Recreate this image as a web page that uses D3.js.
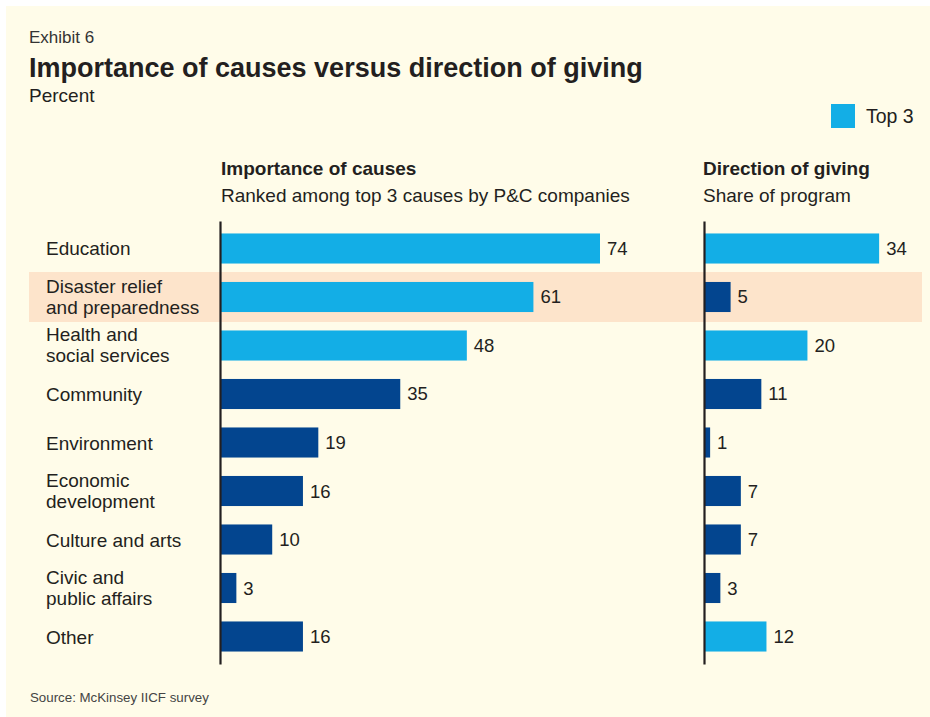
<!DOCTYPE html>
<html>
<head>
<meta charset="utf-8">
<script src="https://cdn.jsdelivr.net/npm/d3@7"></script>
<style>
  html, body { margin: 0; padding: 0; background: #ffffff; }
  svg { display: block; }
  text { font-family: "Liberation Sans", Arial, Helvetica, sans-serif; fill: #231f20; }
</style>
</head>
<body>
<svg id="chart" width="930" height="717"></svg>
<script>
// Causes, listed top to bottom; multi-line labels are split into lines
const categories = [
  ["Education"],
  ["Disaster relief", "and preparedness"],
  ["Health and", "social services"],
  ["Community"],
  ["Environment"],
  ["Economic", "development"],
  ["Culture and arts"],
  ["Civic and", "public affairs"],
  ["Other"]
];

// Importance of causes: % ranking the cause among top 3
const importance = [74, 61, 48, 35, 19, 16, 10, 3, 16];
const importanceTop3 = [true, true, true, false, false, false, false, false, false];

// Direction of giving: share of program, %
const direction = [34, 5, 20, 11, 1, 7, 7, 3, 12];
const directionTop3 = [true, false, true, false, false, false, false, false, true];

// Row that gets the highlight band
const highlightRow = 1;

const colors = { top3: "#13aee6", other: "#03458f", panel: "#fffce9", band: "#fde4cb", ink: "#231f20" };

const svg = d3.select("#chart");

// background panel
svg.append("rect").attr("x", 6).attr("y", 6).attr("width", 924).attr("height", 711).attr("fill", colors.panel);

const y = d3.scaleBand()
  .domain(d3.range(categories.length))
  .range([221, 664])
  .paddingInner(0.38)
  .paddingOuter(0.257);

const x = d3.scaleLinear().domain([0, 74]).range([0, 379]);

// highlight band across the whole row
svg.append("rect")
  .attr("x", 29).attr("width", 893)
  .attr("y", y(highlightRow) + y.bandwidth() / 2 - 25)
  .attr("height", 50)
  .attr("fill", colors.band);

// headings
svg.append("text").attr("x", 29).attr("y", 43).style("font-size", "17px").style("fill", "#333").text("Exhibit 6");
svg.append("text").attr("x", 29).attr("y", 77).style("font-size", "27px").style("font-weight", "bold").text("Importance of causes versus direction of giving");
svg.append("text").attr("x", 29).attr("y", 102).style("font-size", "19px").text("Percent");

// legend
svg.append("rect").attr("x", 831).attr("y", 104).attr("width", 24).attr("height", 24).attr("fill", colors.top3);
svg.append("text").attr("x", 866).attr("y", 123).style("font-size", "19.5px").text("Top 3");

// category labels
const labels = svg.append("g").selectAll("text").data(categories).join("text")
  .attr("x", 46)
  .style("font-size", "19px");
labels.each(function (lines, i) {
  const cy = y(i) + y.bandwidth() / 2;
  const first = lines.length === 1 ? cy + 7 : cy - 4;
  d3.select(this).selectAll("tspan").data(lines).join("tspan")
    .attr("x", 46)
    .attr("y", (d, j) => first + j * 21)
    .text(d => d);
});

function panel(x0, headX, title, subtitle, values, top3) {
  const g = svg.append("g").attr("transform", `translate(${x0},0)`);
  g.append("text").attr("x", headX).attr("y", 175).style("font-size", "19px").style("font-weight", "bold").text(title);
  g.append("text").attr("x", headX).attr("y", 202).style("font-size", "19px").text(subtitle);

  g.selectAll("rect.bar").data(values).join("rect")
    .attr("class", "bar")
    .attr("x", x(0))
    .attr("y", (d, i) => y(i))
    .attr("width", d => x(d))
    .attr("height", y.bandwidth())
    .attr("fill", (d, i) => top3[i] ? colors.top3 : colors.other);

  g.selectAll("text.val").data(values).join("text")
    .attr("class", "val")
    .attr("x", d => x(d) + 7)
    .attr("y", (d, i) => y(i) + y.bandwidth() / 2 + 6.5)
    .style("font-size", "18.5px")
    .text(d => d);

  // vertical baseline
  const axis = g.append("g").attr("transform", "translate(-1,0)")
    .call(d3.axisLeft(y).tickSize(0).tickFormat(""));
  axis.select(".domain").attr("stroke", colors.ink).attr("stroke-width", 2.2);
}

panel(221, 0, "Importance of causes", "Ranked among top 3 causes by P&C companies", importance, importanceTop3);
panel(705, -2, "Direction of giving", "Share of program", direction, directionTop3);

// source note
svg.append("text").attr("x", 30).attr("y", 702).style("font-size", "13.3px").style("fill", "#444").text("Source: McKinsey IICF survey");
</script>
</body>
</html>
